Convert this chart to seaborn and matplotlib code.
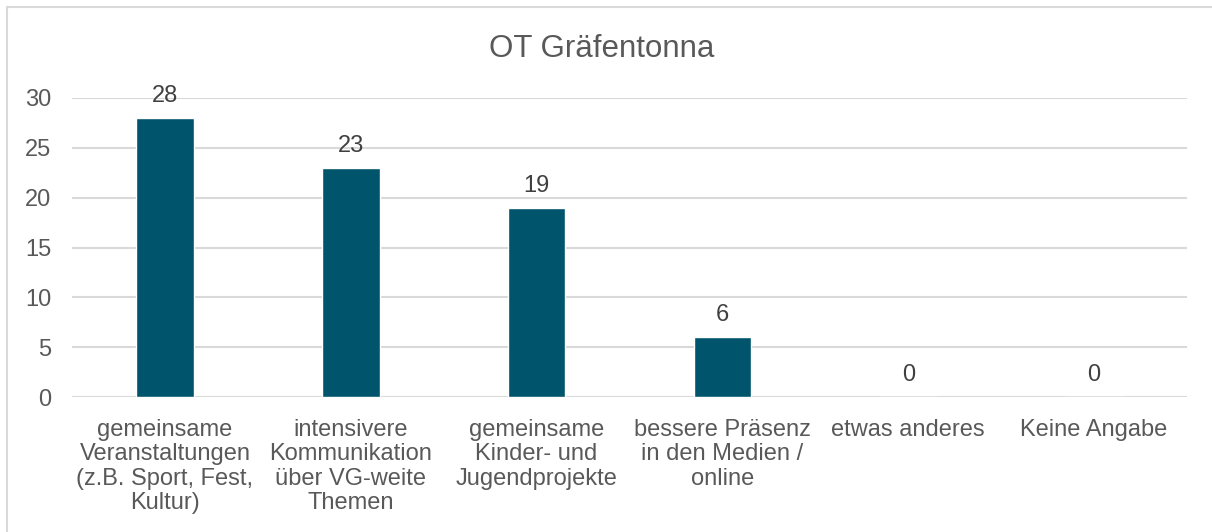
import matplotlib
matplotlib.use("Agg")
import matplotlib.pyplot as plt
import seaborn as sns
import pandas as pd
from matplotlib.patches import Rectangle

categories = [
    "gemeinsame\nVeranstaltungen\n(z.B. Sport, Fest,\nKultur)",
    "intensivere\nKommunikation\nüber VG-weite\nThemen",
    "gemeinsame\nKinder- und\nJugendprojekte",
    "bessere Präsenz\nin den Medien /\nonline",
    "etwas anderes",
    "Keine Angabe",
]
values = [28, 23, 19, 6, 0, 0]
yticks = [0, 5, 10, 15, 20, 25, 30]
title = "OT Gräfentonna"

sns.set_theme(style="white")
plt.rcParams["font.family"] = ["Liberation Sans", "DejaVu Sans"]

text_color = "#595959"
bar_color = "#00546C"
grid_color = "#D9D9D9"

df = pd.DataFrame({"cat": categories, "val": values})

fig = plt.figure(figsize=(12.12, 5.32), dpi=100)
ax = fig.add_axes([72/1212, 1-397/532, (1187-72)/1212, (397-98)/532])

sns.barplot(data=df, x="cat", y="val", color=bar_color, width=0.31,
            saturation=1, ax=ax, zorder=3)

ax.set_ylim(0, 30)
ax.set_xlim(-0.5, len(categories)-0.5)
ax.set_yticks(yticks)
ax.set_yticklabels([str(t) for t in yticks])
for t in yticks:
    ax.axhline(t, color=grid_color, lw=1.5, zorder=1)
for s in ax.spines.values():
    s.set_visible(False)
ax.tick_params(axis="both", length=0, labelsize=17, colors=text_color)
ax.tick_params(axis="y", pad=15)
ax.tick_params(axis="x", pad=15.5)
ax.set_xlabel("")
ax.set_ylabel("")
for lbl in ax.get_xticklabels():
    lbl.set_linespacing(1.15)
    lbl.set_color(text_color)

for i, v in enumerate(values):
    ax.annotate(str(v), (i, v), xytext=(0, 11.5), textcoords="offset points",
                ha="center", va="baseline", fontsize=17, color="#404040")

fig.text(0.5 - 4/1212, 1-49/532, title, ha="center", va="center", fontsize=22.5,
         color=text_color)

fig.patches.append(Rectangle((7/1212, -0.1), 1.2, 1-7/532+0.1,
                             transform=fig.transFigure, fill=False,
                             edgecolor=grid_color, lw=1.5, zorder=0))

fig.savefig("out.png", dpi=100)
